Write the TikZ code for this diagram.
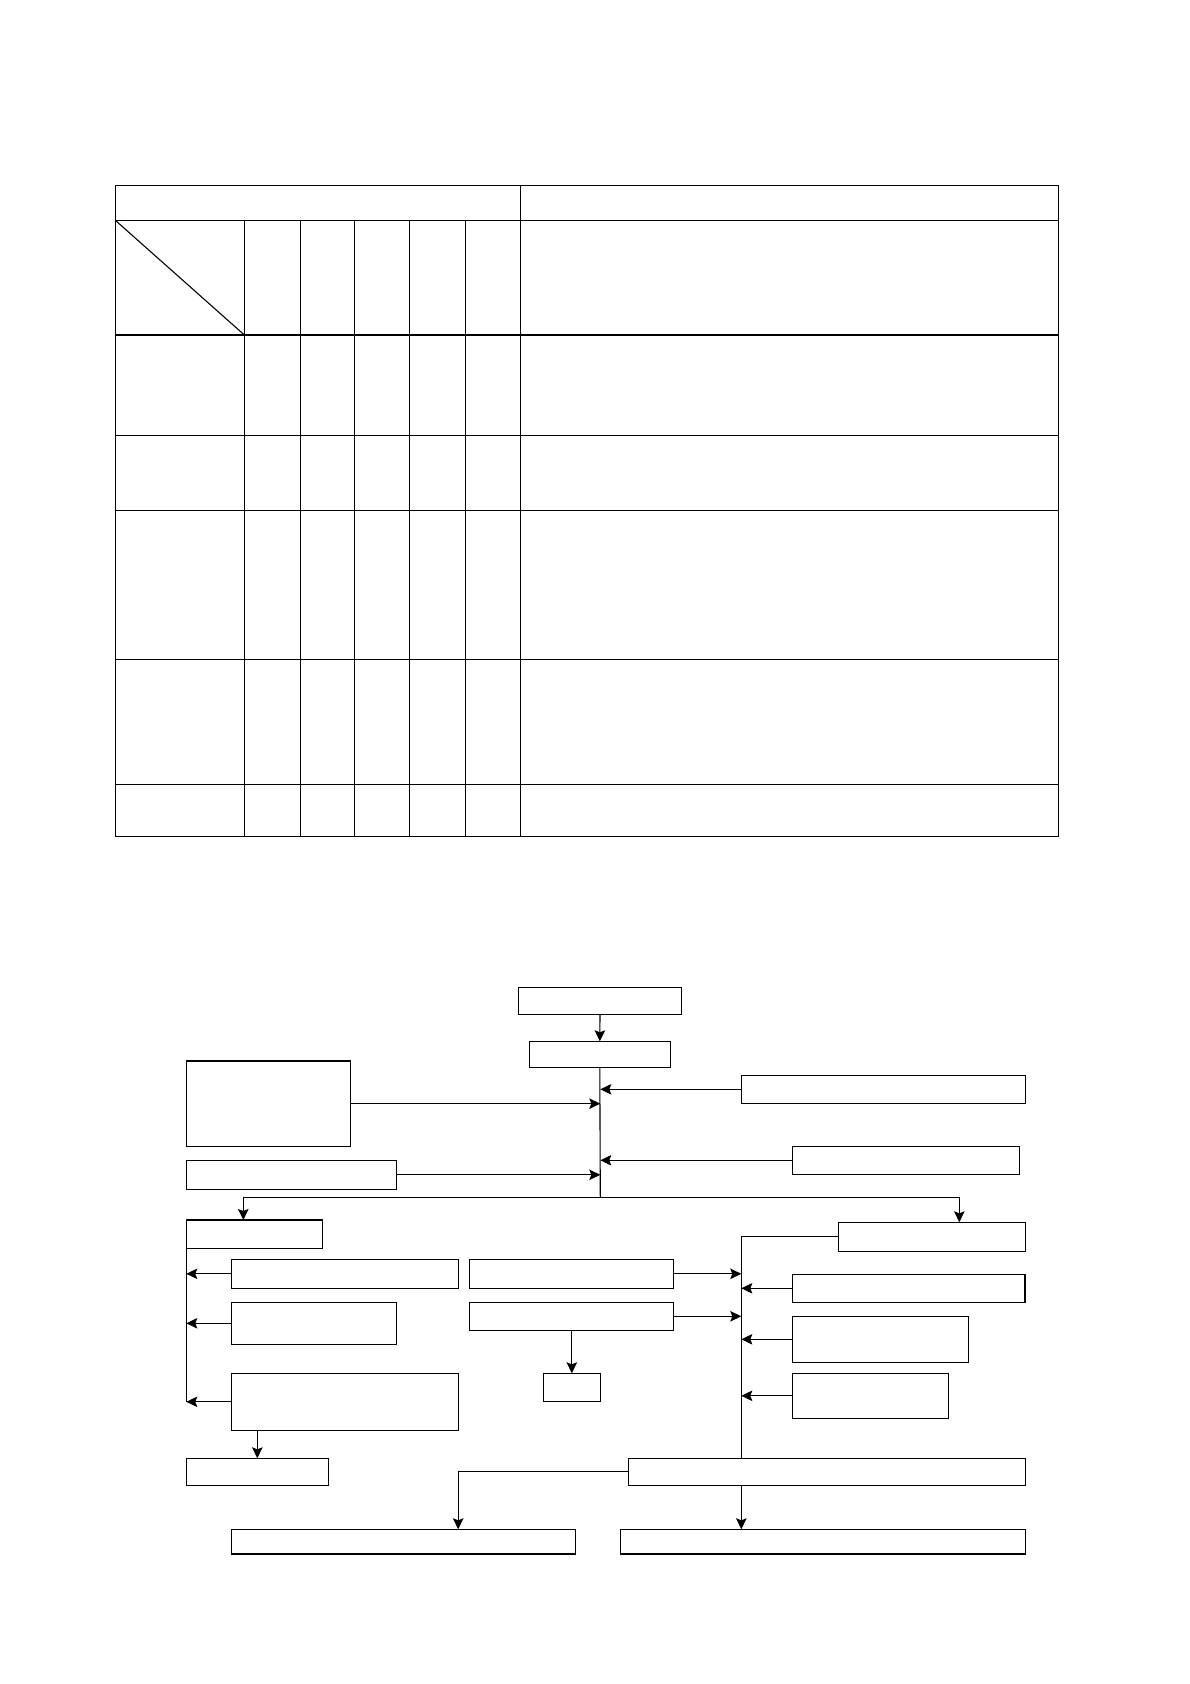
\documentclass[tikz,border=0pt]{standalone}
\usetikzlibrary{arrows.meta}
\tikzset{
  box/.style={draw, line width=1.1pt, rectangle, inner sep=0pt, outer sep=0pt},
  conn/.style={line width=1.1pt},
  arr/.style={line width=1.1pt, -{Stealth[length=11pt,width=10.5pt,inset=2pt]}},
  grid/.style={line width=1.1pt},
}
\newcommand\mkbox[5]{\node[box, minimum width={(#4-#2)*1pt}, minimum height={(#5-#3)*1pt}] (#1) at ({(#2+#4)/2},{(#3+#5)/2}) {};}
\begin{document}
\begin{tikzpicture}[x=1pt,y=-1pt]
\useasboundingbox[fill=white] (0,0) rectangle (1190,1684);
% ---------- table ----------
\draw[grid] (115.3,185.3) rectangle (1058.5,836.3);
\foreach \yy in {220.3,335,435.3,510.3,659.3,784.3}
  \draw[grid] (115.3,\yy) -- (1058.5,\yy);
\draw[grid] (520.5,185.3) -- (520.5,836.3);
\foreach \xx in {244.4,300.3,354.2,409.2,465.2}
  \draw[grid] (\xx,220.3) -- (\xx,836.3);
\draw[grid] (115.3,220.3) -- (244.4,335);
% ---------- flow chart boxes ----------
\mkbox{A}{518.3}{987.3}{681.7}{1014.3}
\mkbox{B}{529.3}{1041.3}{670.3}{1067.3}
\mkbox{R1}{741.3}{1075.3}{1025.7}{1103.3}
\mkbox{L1}{186.3}{1061}{350.3}{1146.3}
\mkbox{R2}{792.3}{1146.3}{1019.3}{1174.3}
\mkbox{L2}{186.3}{1160.3}{396.7}{1189.3}
\mkbox{L3}{186.3}{1220}{322.5}{1248.3}
\mkbox{R3}{838.3}{1222.3}{1025.7}{1251.3}
\mkbox{L4}{231.4}{1259.3}{458.2}{1288.3}
\mkbox{M1}{469.3}{1259.3}{673.5}{1288.3}
\mkbox{R4}{792.3}{1274.3}{1025}{1302.3}
\mkbox{L5}{231.4}{1302.3}{396.4}{1344.3}
\mkbox{M2}{469.3}{1302.3}{673.5}{1330.3}
\mkbox{R5}{792.3}{1316.3}{968.7}{1362.3}
\mkbox{L6}{231.4}{1373.3}{458.2}{1430.3}
\mkbox{M3}{543.2}{1373.3}{600.4}{1401.3}
\mkbox{R6}{792.3}{1373.3}{948.7}{1418.3}
\mkbox{L7}{186.3}{1458.3}{328.3}{1485.5}
\mkbox{R7}{628.3}{1458.3}{1025.3}{1485.5}
\mkbox{B1}{231.4}{1529.3}{575.2}{1554}
\mkbox{B2}{620.5}{1529.3}{1025.3}{1554}
% ---------- helper coordinates ----------
\coordinate (jn) at (600.3,1197.3);
\coordinate (jl) at (243.3,1197.3);
\coordinate (jr) at (959.3,1197.3);
\coordinate (rtx) at (741.3,1300);
\coordinate (bx) at (458.2,1472);
% ---------- connectors ----------
\draw[arr] (A.south) -- (B.north);
\draw[conn] (B.south) -- (jn);
\draw[arr] (R1.west) -- (R1.west -| jn);
\draw[arr] (L1.east) -- (L1.east -| jn);
\draw[arr] (R2.west) -- (R2.west -| jn);
\draw[arr] (L2.east) -- (L2.east -| jn);
\draw[conn] (jl) -- (jr);
\draw[arr] (jl) -- (jl |- L3.north);
\draw[arr] (jr) -- (jr |- R3.north);
% left lower trunk
\draw[conn] (L3.south west) -- (L3.south west |- L6.west);
\draw[arr] (L4.west) -- (L4.west -| L3.south west);
\draw[arr] (L5.west) -- (L5.west -| L3.south west);
\draw[arr] (L6.west) -- (L6.west -| L3.south west);
\draw[arr] (L6.south -| L7.north) -- (L7.north);
% middle
\draw[arr] (M3.north |- M2.south) -- (M3.north);
% right trunk
\draw[conn] (R3.west) -- (R3.west -| rtx) -- (rtx |- R7.north);
\draw[arr] (M1.east) -- (M1.east -| rtx);
\draw[arr] (M2.east) -- (M2.east -| rtx);
\draw[arr] (R4.west) -- (R4.west -| rtx);
\draw[arr] (R5.west) -- (R5.west -| rtx);
\draw[arr] (R6.west) -- (R6.west -| rtx);
% bottom
\draw[arr] (R7.south -| rtx) -- (rtx |- B2.north);
\draw[arr] (R7.west) -- (R7.west -| bx) -- (bx |- B1.north);
\end{tikzpicture}
\end{document}
